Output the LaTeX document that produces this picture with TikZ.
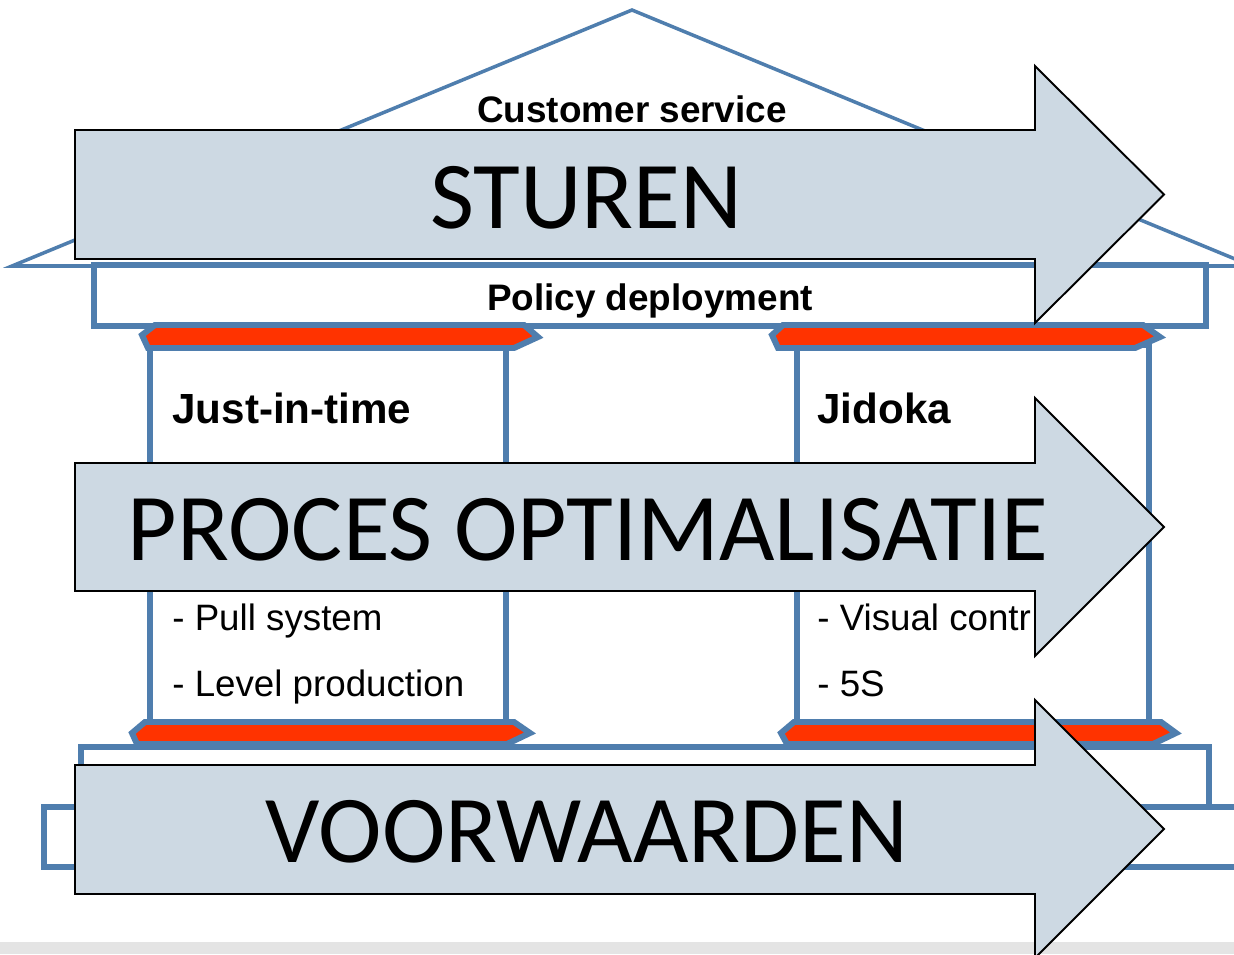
\documentclass[tikz,border=0pt]{standalone}
\usepackage{fontspec}
\setmainfont{Liberation Sans}
\newfontfamily\calib{Carlito}
\definecolor{hblue}{RGB}{79,126,174}
\definecolor{hred}{RGB}{255,51,0}
\definecolor{afill}{RGB}{205,217,227}
\definecolor{strip}{RGB}{228,228,228}
\tikzset{
  roofline/.style={draw=hblue, line width=2pt, line join=miter},
  housebox/.style={draw=hblue, line width=3.3pt, fill=white},
  pillarbox/.style={draw=hblue, line width=3pt, fill=white},
  capshape/.style={draw=hblue, line width=3.4pt, fill=hred, line join=miter},
  bigarrow/.style={draw=black, line width=1.1pt, fill=afill, line join=miter},
  boldlbl/.style={inner sep=0pt, font=\bfseries\fontsize{21pt}{25pt}\selectfont},
  pillartitle/.style={inner sep=0pt, anchor=base west, font=\bfseries\fontsize{24pt}{28pt}\selectfont},
  itemlbl/.style={inner sep=0pt, anchor=base west, font=\fontsize{20.9pt}{25pt}\selectfont},
  biglbl/.style={inner sep=0pt, anchor=base, font=\calib\fontsize{54.5pt}{60pt}\selectfont},
}
\begin{document}
\begin{tikzpicture}[x=0.02cm, y=-0.02cm]
\useasboundingbox (0,0) rectangle (1234,954);
\clip (0,0) rectangle (1234,954);
\fill[white] (0,0) rectangle (1234,954);
% grey strip
\fill[strip] (0,942) rectangle (1234,954);
% roof
\draw[roofline] (12,266) -- (632,10) -- (1252,266) -- cycle;
% policy deployment box
\draw[housebox] (94,265) rectangle (1206,326);
% foundation boxes
\draw[housebox] (44,807) rectangle (1260,867);
\draw[housebox] (81,747) rectangle (1209,807);
% pillars
\draw[pillarbox] (150,345) rectangle (506,725);
\draw[pillarbox] (797,345) rectangle (1149,725);
% caps
\draw[capshape] (142,335) -- (155,325) -- (524,325) -- (538,337) -- (514,348) -- (148,348) -- cycle;
\draw[capshape] (772,335) -- (783,325) -- (1143,325) -- (1160,337) -- (1135,348) -- (778,348) -- cycle;
\draw[capshape] (132,733) -- (145,722) -- (514,722) -- (530,733) -- (507,744) -- (137,744) -- cycle;
\draw[capshape] (781,733) -- (794,722) -- (1161,722) -- (1176,733) -- (1153,744) -- (787,744) -- cycle;
% texts of the house
\node[boldlbl, anchor=base] (cs) at (632,122) {Customer service};
\node[boldlbl, anchor=base] (pd) at (650,310) {Policy deployment};
\node[pillartitle] (jit) at (172,423) {Just-in-time};
\node[pillartitle] (jid) at (817,423) {Jidoka};
\node[itemlbl] (pull) at (172,630) {- Pull system};
\node[itemlbl] (lvl) at (172,696) {- Level production};
\node[itemlbl] (vis) at (817,630) {- Visual contr};
\node[itemlbl] (five) at (817,696) {- 5S};
% arrows
\draw[bigarrow] (75,130) -- (1035,130) -- (1035,66) -- (1164,194.5) -- (1035,323) -- (1035,259) -- (75,259) -- cycle;
\draw[bigarrow] (75,463) -- (1035,463) -- (1035,398) -- (1164,527) -- (1035,656) -- (1035,591) -- (75,591) -- cycle;
\draw[bigarrow] (75,765) -- (1035,765) -- (1035,700) -- (1164,829) -- (1035,958) -- (1035,894) -- (75,894) -- cycle;
\node[biglbl] (st) at (586,228) {STUREN};
\node[biglbl] (po) at (588,560) {PROCES OPTIMALISATIE};
\node[biglbl] (vo) at (587,862) {VOORWAARDEN};
\end{tikzpicture}
\end{document}
